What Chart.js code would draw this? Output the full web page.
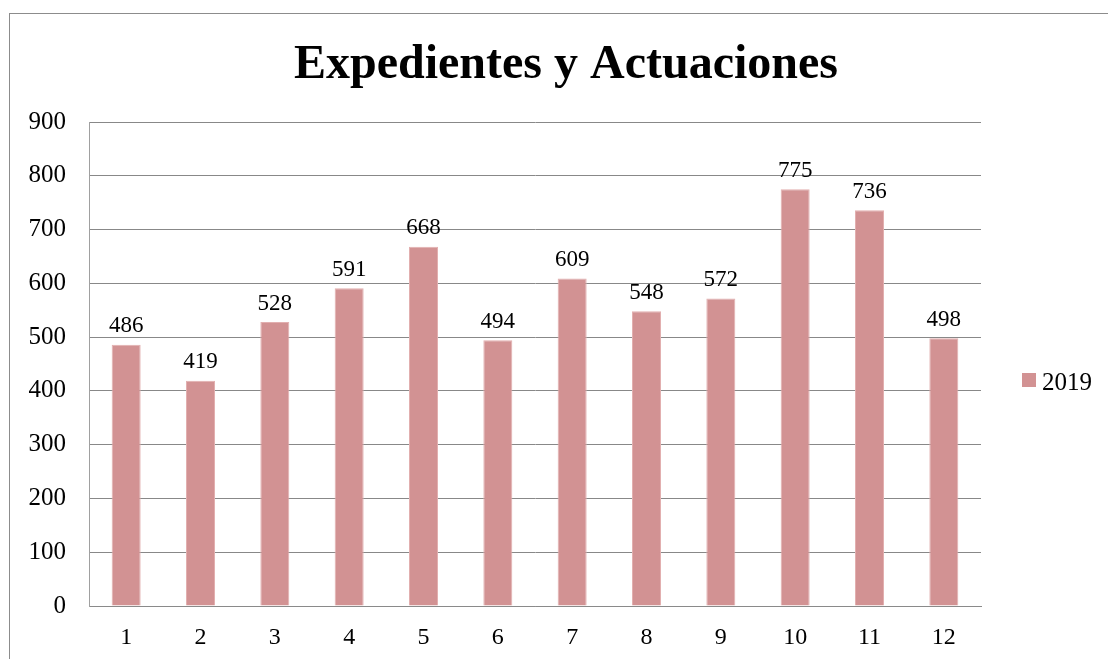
<!DOCTYPE html>
<html>
<head>
<meta charset="utf-8">
<script src="https://cdn.jsdelivr.net/npm/chart.js@4.4.0/dist/chart.umd.min.js"></script>
<style>
  html, body { margin: 0; padding: 0; background: #fff; overflow: hidden; }
  #wrap { position: relative; width: 1108px; height: 659px; }
  #frame {
    position: absolute; left: 9px; top: 13px; width: 1200px; height: 800px;
    border: 1px solid #8c8c8c; box-sizing: border-box;
  }
  canvas { position: absolute; left: 0; top: 0; }
</style>
</head>
<body>
<div id="wrap">
  <div id="frame"></div>
  <canvas id="chart" width="1108" height="659"></canvas>
</div>
<script>
// ---------------------------------------------------------------------------
// Data
// ---------------------------------------------------------------------------
const chartTitle  = 'Expedientes y Actuaciones';
const months      = ['1', '2', '3', '4', '5', '6', '7', '8', '9', '10', '11', '12'];
const seriesName  = '2019';
const values2019  = [486, 419, 528, 591, 668, 494, 609, 548, 572, 775, 736, 498];
const yTicks      = [0, 100, 200, 300, 400, 500, 600, 700, 800, 900];

const SERIF   = '"Liberation Serif", "Times New Roman", serif';
const BAR_COL = '#D29293';

// ---------------------------------------------------------------------------
// Title, legend and value labels drawn on the canvas
// ---------------------------------------------------------------------------
const decorations = {
  id: 'decorations',
  afterDatasetsDraw(chart) {
    const ctx = chart.ctx;
    ctx.save();

    // value labels above each bar
    ctx.fillStyle = '#000';
    ctx.font = '23px ' + SERIF;
    ctx.textAlign = 'center';
    ctx.textBaseline = 'bottom';
    const meta = chart.getDatasetMeta(0);
    meta.data.forEach((bar, i) => {
      ctx.fillText(String(values2019[i]), bar.x, bar.y - 7);
    });

    // title
    ctx.font = 'bold 48px ' + SERIF;
    ctx.textBaseline = 'alphabetic';
    ctx.fillText(chartTitle, 566, 78);

    // legend
    ctx.fillStyle = BAR_COL;
    ctx.fillRect(1022, 373, 14, 14);
    ctx.fillStyle = '#000';
    ctx.font = '25px ' + SERIF;
    ctx.textAlign = 'left';
    ctx.fillText(seriesName, 1042, 390);

    ctx.restore();
  }
};

new Chart(document.getElementById('chart'), {
  type: 'bar',
  data: {
    labels: months,
    datasets: [{
      label: seriesName,
      data: values2019,
      backgroundColor: BAR_COL,
      borderColor: '#E2AFAF',
      borderWidth: 1,
      barPercentage: 0.39,
      categoryPercentage: 1.0,
    }],
  },
  options: {
    responsive: false,
    animation: false,
    layout: { padding: { top: 122, right: 127, left: 0, bottom: 0 } },
    plugins: {
      legend: { display: false },
      title: { display: false },
      tooltip: { enabled: false },
    },
    scales: {
      x: {
        grid: { display: false, drawTicks: false },
        border: { display: true, color: '#8a8a8a', width: 1 },
        ticks: { color: '#000', font: { family: SERIF, size: 24 }, padding: 17, maxRotation: 0 },
        afterFit(scale) { scale.height = 53; },
      },
      y: {
        min: 0,
        max: 900,
        afterBuildTicks(scale) { scale.ticks = yTicks.map(v => ({ value: v })); },
        grid: { color: '#888888', lineWidth: 1, drawTicks: false },
        border: { display: true, color: '#a0a0a0', width: 1 },
        ticks: { color: '#000', font: { family: SERIF, size: 25 }, padding: 23 },
        afterFit(scale) { scale.width = 89; },
      },
    },
  },
  plugins: [decorations],
});
</script>
</body>
</html>
